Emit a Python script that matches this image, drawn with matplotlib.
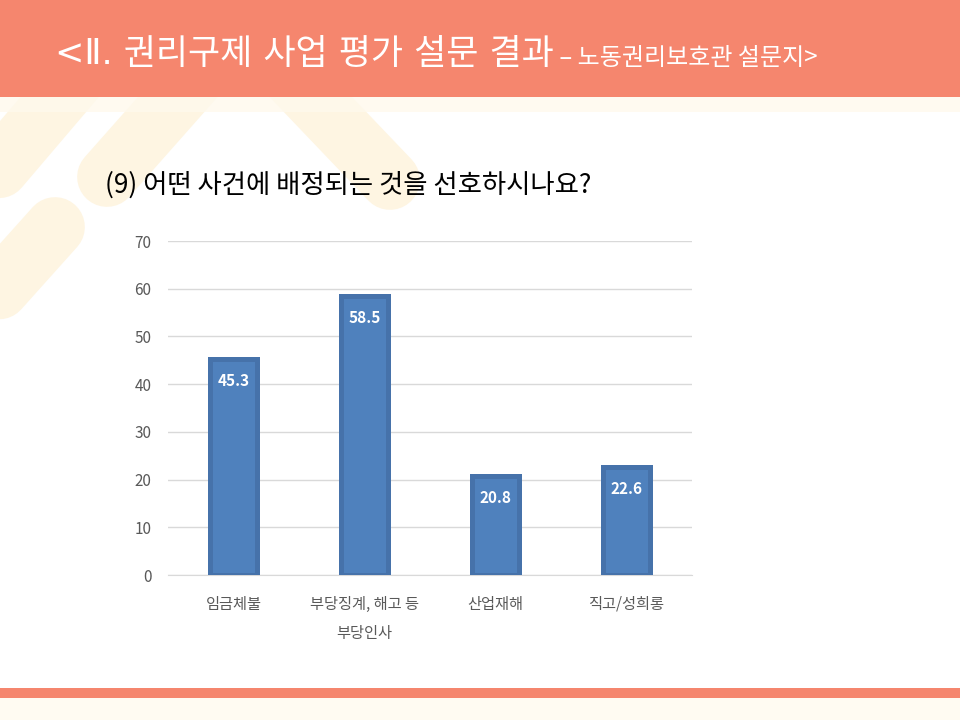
import matplotlib.pyplot as plt

plt.rcParams['font.family'] = ['Noto Sans CJK KR', 'DejaVu Sans']

# chart data
categories = ['임금체불', '부당징계, 해고 등\n부당인사', '산업재해', '직고/성희롱']
values = [45.3, 58.5, 20.8, 22.6]
y_ticks = [0, 10, 20, 30, 40, 50, 60, 70]

header_title = '<Ⅱ. 권리구제 사업 평가 설문 결과'
header_sub = ' – 노동권리보호관 설문지>'
question = '(9) 어떤 사건에 배정되는 것을 선호하시나요?'

coral = '#F5866E'
cream = '#FEF5E2'
bar_face = '#4F81BD'
bar_edge = '#4672AA'
grey_text = '#595959'

fig = plt.figure(figsize=(9.6, 7.2), dpi=100)

# background layer in pixel coordinates
bg = fig.add_axes([0, 0, 1, 1])
bg.set_xlim(0, 960)
bg.set_ylim(720, 0)
bg.axis('off')

# pale decorative strokes behind the header
for (x0, y0), (x1, y1) in [((107, 177), (215, 55)),
                           ((390, 180), (285, 70)),
                           ((55, 227), (-75, 372)),
                           ((98, 52), (-120, 308))]:
    bg.plot([x0, x1], [y0, y1], color=cream, lw=43, solid_capstyle='round', zorder=1)

bg.add_patch(plt.Rectangle((0, 97), 960, 15, color='#FFF9ED', alpha=0.8, zorder=2, lw=0))
bg.add_patch(plt.Rectangle((0, 0), 960, 97, color=coral, zorder=3, lw=0))
bg.add_patch(plt.Rectangle((0, 688), 960, 10, color=coral, zorder=3, lw=0))
bg.add_patch(plt.Rectangle((0, 698), 960, 22, color='#FFFBF2', zorder=3, lw=0))

t = bg.text(55, 64, header_title, color='white', fontsize=25.2, va='baseline', zorder=4,
            family=['DejaVu Sans', 'Noto Sans CJK KR'])
bg.annotate(header_sub, xy=(1, 0), xycoords=t, va='bottom', ha='left',
            color='white', fontsize=17.3, zorder=4)

bg.text(105, 185, question, color='black', fontsize=19, va='center', zorder=4)

# bar chart
ax = fig.add_axes([168 / 960, 1 - 575 / 720, 524 / 960, 334 / 720])
ax.patch.set_alpha(0)
x = range(len(categories))
bars = ax.bar(x, values, width=0.36, color=bar_face, edgecolor=bar_edge,
              linewidth=3.6, joinstyle='miter', zorder=3)

for rect, v in zip(bars, values):
    ax.annotate(f'{v:.1f}', xy=(rect.get_x() + rect.get_width() / 2, v),
                xytext=(0, -16), textcoords='offset points', ha='center', va='center',
                color='white', fontsize=11, fontweight='bold', zorder=4)

ax.set_xlim(-0.5, len(categories) - 0.5)
ax.set_ylim(0, 70)
ax.set_yticks(y_ticks)
ax.set_xticks(list(x))
ax.set_xticklabels(categories, linespacing=1.95)
ax.grid(axis='y', color='#D9D9D9', lw=1, zorder=0)
ax.set_axisbelow(True)
for side in ['top', 'right', 'left']:
    ax.spines[side].set_visible(False)
ax.spines['bottom'].set_color('#D9D9D9')
ax.tick_params(axis='both', length=0, labelsize=11, labelcolor=grey_text)
ax.tick_params(axis='y', pad=12)
ax.tick_params(axis='x', pad=15)
for lbl in ax.get_xticklabels():
    lbl.set_verticalalignment('top')

fig.savefig('out.png', dpi=100)
